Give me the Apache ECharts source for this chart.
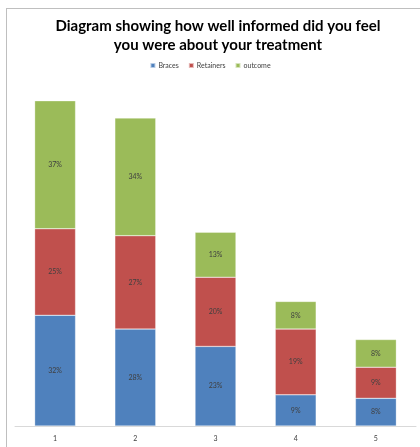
<!DOCTYPE html>
<html><head><meta charset="utf-8">
<script src="https://cdn.jsdelivr.net/npm/echarts@6/dist/echarts.min.js"></script>
<style>
html,body{margin:0;padding:0;background:#fff;}
#c{width:420px;height:447px;}
</style></head>
<body><div id="c"></div>
<script>
const categories = ['1','2','3','4','5'];
const braces = [32,28,23,9,8];
const retainers = [25,27,20,19,9];
const outcome = [37,34,13,8,8];

const chart = echarts.init(document.getElementById('c'));
const lbl = {show:true, position:'inside', formatter:'{c}%', fontSize:7, color:'#404040', fontFamily:'Lato'};
function s(name, data, color){
  return {name, type:'bar', stack:'t', data, barWidth:'51%',
    itemStyle:{color, borderColor:'rgba(255,255,255,0.6)', borderWidth:0.5},
    label:lbl};
}
chart.setOption({
  animation:false,
  graphic:[
    {type:'line', shape:{x1:6,y1:8.5,x2:420,y2:8.5}, style:{stroke:'#bfbfbf',lineWidth:1}},
    {type:'line', shape:{x1:6.5,y1:8,x2:6.5,y2:447}, style:{stroke:'#bfbfbf',lineWidth:1}}
  ],
  title:{text:'Diagram showing how well informed did you feel\nyou were about your treatment',
    left:213, textAlign:'center', top:12,
    textStyle:{fontFamily:'Lato', fontWeight:'bold', fontSize:15, lineHeight:18.5, color:'#000'}},
  legend:{top:57, left:'center', itemWidth:5, itemHeight:5, itemGap:9,
    icon:'rect', textStyle:{fontSize:7, color:'#404040', fontFamily:'Lato', padding:[0,0,0,-2]},
    data:['Braces','Retainers','outcome']},
  grid:{left:15, right:4, top:80, bottom:21},
  xAxis:{type:'category', data:categories,
    axisLine:{lineStyle:{color:'#d9d9d9'}}, axisTick:{show:false},
    axisLabel:{fontSize:7, color:'#404040', margin:9, fontFamily:'Lato'}},
  yAxis:{type:'value', min:0, max:100, show:false, splitLine:{show:false}},
  series:[s('Braces',braces,'#4F81BD'), s('Retainers',retainers,'#C0504D'), s('outcome',outcome,'#9BBB59')]
});
</script></body></html>
